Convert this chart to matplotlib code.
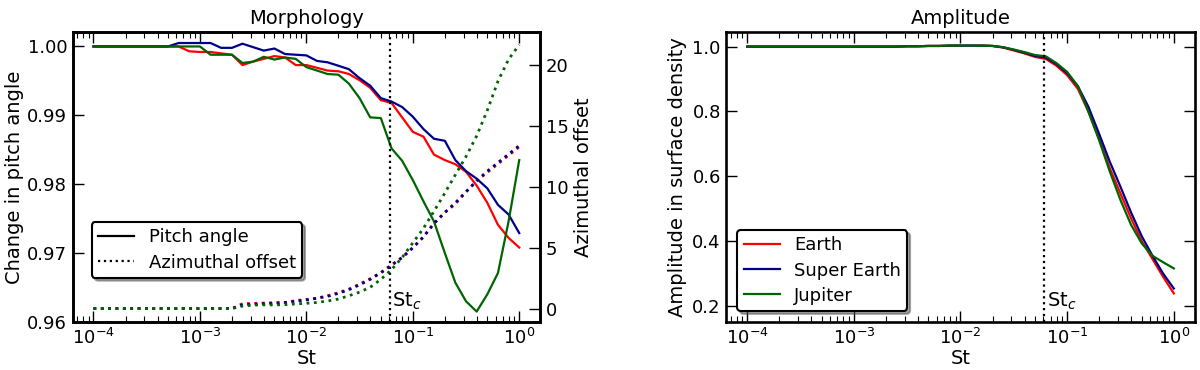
import numpy as np
import matplotlib
matplotlib.use("Agg")
import matplotlib.pyplot as plt
from matplotlib.lines import Line2D
from matplotlib.ticker import FormatStrFormatter, LogLocator, NullFormatter

# ---------------- data ----------------
# Stokes numbers (0.1-decade grid from 1e-4 to 1)
St = [1.00e-4, 1.26e-4, 1.58e-4, 2.00e-4, 2.51e-4, 3.16e-4, 3.98e-4, 5.01e-4, 6.31e-4, 7.94e-4,
      1.00e-3, 1.26e-3, 1.58e-3, 2.00e-3, 2.51e-3, 3.16e-3, 3.98e-3, 5.01e-3, 6.31e-3, 7.94e-3,
      1.00e-2, 1.26e-2, 1.58e-2, 2.00e-2, 2.51e-2, 3.16e-2, 3.98e-2, 5.01e-2, 6.31e-2, 7.94e-2,
      1.00e-1, 1.26e-1, 1.58e-1, 2.00e-1, 2.51e-1, 3.16e-1, 3.98e-1, 5.01e-1, 6.31e-1, 7.94e-1,
      1.00]

St_c = 0.061

pitch_earth = [1.0, 1.0, 1.0, 1.0, 1.0, 1.0, 1.0, 1.0, 1.0, 0.9993,
               0.9992, 0.9992, 0.9990, 0.9988, 0.9973, 0.9978, 0.9982, 0.9986, 0.9984, 0.9973,
               0.9973, 0.9969, 0.9965, 0.9964, 0.9960, 0.9951, 0.9940, 0.9922, 0.9918, 0.9897,
               0.9876, 0.9869, 0.9843, 0.9835, 0.9829, 0.9818, 0.9798, 0.9773, 0.9741, 0.9722,
               0.9708]
pitch_super = [1.0, 1.0, 1.0, 1.0, 1.0, 1.0, 1.0, 1.0, 1.0005, 1.0005,
               1.0005, 1.0005, 0.9998, 0.9998, 1.0004, 0.9999, 0.9994, 0.9997, 0.9989, 0.9988,
               0.9987, 0.9979, 0.9977, 0.9972, 0.9967, 0.9954, 0.9943, 0.9925, 0.9920, 0.9912,
               0.9898, 0.9880, 0.9866, 0.9863, 0.9835, 0.9819, 0.9808, 0.9794, 0.9770, 0.9756,
               0.9729]
pitch_jup = [1.0, 1.0, 1.0, 1.0, 1.0, 1.0, 1.0, 1.0, 1.0, 1.0,
             1.0, 0.9988, 0.9988, 0.9988, 0.9976, 0.9978, 0.9985, 0.9981, 0.9984, 0.9982,
             0.9970, 0.9965, 0.9960, 0.9959, 0.9946, 0.9925, 0.9897, 0.9896, 0.9852, 0.9834,
             0.9806, 0.9775, 0.9746, 0.9700, 0.9657, 0.9630, 0.9615, 0.9640, 0.9671, 0.9746,
             0.9835]

az_earth = [0, 0, 0, 0, 0, 0, 0, 0, 0, 0,
            0, 0, 0, 0, 0.40, 0.42, 0.45, 0.47, 0.50, 0.65,
            0.75, 0.85, 1.05, 1.30, 1.60, 2.00, 2.45, 2.95, 3.60, 4.20,
            5.00, 5.90, 7.00, 7.90, 8.60, 9.60, 10.5, 11.2, 11.9, 12.6,
            13.3]
az_super = [0, 0, 0, 0, 0, 0, 0, 0, 0, 0,
            0, 0, 0, 0, 0.30, 0.35, 0.40, 0.45, 0.50, 0.60,
            0.70, 0.85, 1.00, 1.25, 1.55, 1.95, 2.40, 2.95, 3.55, 4.20,
            5.00, 5.90, 7.00, 7.90, 8.70, 9.60, 10.5, 11.3, 12.0, 12.7,
            13.4]
az_jup = [0, 0, 0, 0, 0, 0, 0, 0, 0, 0,
          0, 0, 0, 0, 0.20, 0.28, 0.30, 0.30, 0.32, 0.38,
          0.43, 0.50, 0.62, 0.78, 1.05, 1.35, 1.75, 2.40, 3.20, 4.20,
          5.40, 6.60, 8.00, 9.50, 11.0, 12.5, 14.2, 16.3, 18.7, 20.5,
          21.7]

amp_earth = [1.0, 1.0, 1.0, 1.0, 1.0, 1.0, 1.0, 1.0, 1.0, 1.0,
             1.0, 1.0, 1.0, 1.0, 1.0, 1.001, 1.001, 1.002, 1.002, 1.003,
             1.003, 1.003, 1.003, 1.002, 0.997, 0.988, 0.979, 0.968, 0.962, 0.941,
             0.912, 0.870, 0.800, 0.715, 0.625, 0.547, 0.470, 0.400, 0.345, 0.290,
             0.239]
amp_super = [1.0, 1.0, 1.0, 1.0, 1.0, 1.0, 1.0, 1.0, 1.0, 1.0,
             1.0, 1.0, 1.0, 1.0, 1.0, 1.001, 1.001, 1.002, 1.002, 1.003,
             1.003, 1.003, 1.003, 1.002, 0.998, 0.990, 0.981, 0.971, 0.966, 0.946,
             0.918, 0.878, 0.815, 0.730, 0.645, 0.568, 0.488, 0.415, 0.355, 0.300,
             0.254]
amp_jup = [1.0, 1.0, 1.0, 1.0, 1.0, 1.0, 1.0, 1.0, 1.0, 1.0,
           1.0, 1.0, 1.0, 1.0, 1.0, 1.001, 1.001, 1.002, 1.002, 1.003,
           1.003, 1.003, 1.003, 1.002, 0.998, 0.991, 0.983, 0.974, 0.970, 0.949,
           0.922, 0.878, 0.800, 0.710, 0.615, 0.527, 0.450, 0.393, 0.355, 0.335,
           0.316]

colors = {"Earth": "#ff0000", "Super Earth": "#00008b", "Jupiter": "#006400"}

# ---------------- style ----------------
plt.rcParams["font.family"] = ["DejaVu Sans"]
plt.rcParams["axes.linewidth"] = 1.9

TICK_FS = 13
LABEL_FS = 14
LEG_FS = 13


def style_axis(ax, right=True):
    ax.tick_params(which="major", direction="in", length=8, width=1.0,
                   top=True, right=right, labelsize=TICK_FS, pad=4)
    ax.tick_params(which="minor", direction="in", length=4, width=0.8,
                   top=True, right=right)


fig = plt.figure(figsize=(12, 3.7), dpi=100)
ax1 = fig.add_axes([0.0606, 0.130, 0.3894, 0.7835])
ax2 = fig.add_axes([0.6053, 0.130, 0.3902, 0.7835])

# ---------------- left: Morphology ----------------
ax1.plot(St, pitch_earth, color=colors["Earth"], lw=1.6)
ax1.plot(St, pitch_super, color=colors["Super Earth"], lw=1.6)
ax1.plot(St, pitch_jup, color=colors["Jupiter"], lw=1.6)
ax1.set_xscale("log")
ax1.set_xlim(10 ** -4.195, 10 ** 0.195)
ax1.set_ylim(0.96, 1.0021)
ax1.set_yticks([0.96, 0.97, 0.98, 0.99, 1.00])
ax1.yaxis.set_major_formatter(FormatStrFormatter("%.2f"))
ax1.xaxis.set_major_locator(LogLocator(base=10, numticks=10))
ax1.xaxis.set_minor_locator(LogLocator(base=10, subs=np.arange(2, 10), numticks=20))
ax1.xaxis.set_minor_formatter(NullFormatter())
ax1.set_xlabel("St", fontsize=LABEL_FS, labelpad=1)
ax1.set_ylabel("Change in pitch angle", fontsize=LABEL_FS, labelpad=2)
ax1.set_title("Morphology", fontsize=LABEL_FS, pad=6)
style_axis(ax1, right=False)

ax1b = ax1.twinx()
ax1b.plot(St, az_earth, color=colors["Earth"], lw=2, ls=":")
ax1b.plot(St, az_super, color=colors["Super Earth"], lw=2, ls=":")
ax1b.plot(St, az_jup, color=colors["Jupiter"], lw=2, ls=":")
ax1b.set_ylim(-1.1, 22.75)
ax1b.set_yticks([0, 5, 10, 15, 20])
ax1b.set_ylabel("Azimuthal offset", fontsize=LABEL_FS, labelpad=4)
ax1b.tick_params(which="major", direction="in", length=8, width=1.0, labelsize=TICK_FS, pad=4)
ax1b.tick_params(which="minor", direction="in", length=4, width=0.8)

ax1.axvline(St_c, color="k", ls=":", lw=1.6)
ax1.text(St_c * 1.05, 0.035, r"St$_c$", transform=ax1.get_xaxis_transform(),
         fontsize=LABEL_FS, ha="left", va="bottom")

handles = [Line2D([], [], color="k", lw=1.6, ls="-"),
           Line2D([], [], color="k", lw=1.6, ls=":")]
leg1 = ax1.legend(handles, ["Pitch angle", "Azimuthal offset"], loc="lower left",
                  bbox_to_anchor=(0.041, 0.152), borderaxespad=0, fontsize=LEG_FS,
                  shadow=True, fancybox=True, framealpha=1, edgecolor="k",
                  handlelength=2.0, handletextpad=0.8, borderpad=0.35, labelspacing=0.4)
leg1.get_frame().set_linewidth(1.5)
leg1.set_zorder(10)

# ---------------- right: Amplitude ----------------
ax2.plot(St, amp_earth, color=colors["Earth"], lw=1.6, label="Earth")
ax2.plot(St, amp_super, color=colors["Super Earth"], lw=1.6, label="Super Earth")
ax2.plot(St, amp_jup, color=colors["Jupiter"], lw=1.6, label="Jupiter")
ax2.set_xscale("log")
ax2.set_xlim(10 ** -4.195, 10 ** 0.195)
ax2.set_ylim(0.151, 1.045)
ax2.set_yticks([0.2, 0.4, 0.6, 0.8, 1.0])
ax2.yaxis.set_major_formatter(FormatStrFormatter("%.1f"))
ax2.xaxis.set_major_locator(LogLocator(base=10, numticks=10))
ax2.xaxis.set_minor_locator(LogLocator(base=10, subs=np.arange(2, 10), numticks=20))
ax2.xaxis.set_minor_formatter(NullFormatter())
ax2.set_xlabel("St", fontsize=LABEL_FS, labelpad=1)
ax2.set_ylabel("Amplitude in surface density", fontsize=LABEL_FS, labelpad=4)
ax2.set_title("Amplitude", fontsize=LABEL_FS, pad=6)
style_axis(ax2, right=True)

ax2.axvline(St_c, color="k", ls=":", lw=1.6)
ax2.text(St_c * 1.05, 0.035, r"St$_c$", transform=ax2.get_xaxis_transform(),
         fontsize=LABEL_FS, ha="left", va="bottom")

leg2 = ax2.legend(loc="lower left", fontsize=LEG_FS, shadow=True, fancybox=True,
                  framealpha=1, edgecolor="k", handlelength=2.0, handletextpad=0.8,
                  borderpad=0.35, labelspacing=0.4, borderaxespad=0.6)
leg2.get_frame().set_linewidth(1.5)

fig.savefig("out.png", dpi=100)
